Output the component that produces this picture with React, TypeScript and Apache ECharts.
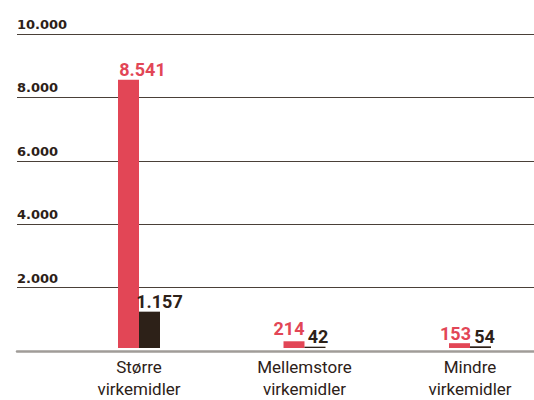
import React, { useEffect, useRef } from "react";
import * as echarts from "echarts";

const categories = ["Større\nvirkemidler", "Mellemstore\nvirkemidler", "Mindre\nvirkemidler"];
const redValues = [8541, 214, 153];
const darkValues = [1157, 42, 54];
const yTicks = [0, 2000, 4000, 6000, 8000, 10000];

const RED = "#e24656";
const DARK = "#2d2118";
const redOffsets = [[14, 0], [-5, -3], [-4, 0]];
const darkOffsets = [[10, 0], [3, 0], [4, 0]];

const fmt = (v: number) => {
  const s = Math.round(v).toString();
  return s.replace(/\B(?=(\d{3})+(?!\d))/g, ".");
};

export default function App() {
  const ref = useRef<HTMLDivElement>(null);
  useEffect(() => {
    if (!ref.current) return;
    const chart = echarts.init(ref.current, undefined, { renderer: "svg" });
    const yMax = yTicks[yTicks.length - 1];
    const labelBase = {
      show: true,
      position: "top" as const,
      distance: 1,
      fontFamily: "Roboto",
      fontWeight: "bold" as const,
      fontSize: 18,
      formatter: (p: any) => fmt(p.value),
    };
    chart.setOption({
      animation: false,
      grid: [
        { left: 17, right: 0, top: 34, bottom: 49 },
        { left: 139, width: 331, top: 34, bottom: 49 },
      ],
      xAxis: [
        {
          gridIndex: 0,
          type: "category",
          data: categories,
          axisLine: { show: true, lineStyle: { color: "#a09c98", width: 2.5 } },
          axisTick: { show: false },
          axisLabel: { show: false },
        },
        {
          gridIndex: 1,
          type: "category",
          data: categories,
          boundaryGap: false,
          axisLine: { show: false },
          axisTick: { show: false },
          axisLabel: {
            margin: 8,
            color: DARK,
            fontFamily: "Roboto",
            fontSize: 17,
            lineHeight: 22,
          },
        },
      ],
      yAxis: [
        {
          gridIndex: 0,
          type: "value",
          min: 0,
          max: yMax,
          interval: 2000,
          axisLine: { show: false },
          axisTick: { show: false },
          splitLine: { lineStyle: { color: "#4a4038", width: 1.2 } },
          axisLabel: {
            inside: true,
            margin: 0,
            verticalAlign: "bottom",
            padding: [0, 0, 3, 0],
            color: DARK,
            fontFamily: "DejaVu Sans",
            fontWeight: "bold",
            fontSize: 13,
            formatter: (v: number) => (v === 0 ? "" : fmt(v)),
          },
        },
        {
          gridIndex: 1,
          type: "value",
          min: 0,
          max: yMax,
          show: false,
          splitLine: { show: false },
        },
      ],
      series: [
        {
          type: "bar",
          xAxisIndex: 1,
          yAxisIndex: 1,
          barWidth: 21,
          barGap: "0%",
          clip: false,
          itemStyle: { color: RED },
          data: redValues.map((v, i) => ({ value: v, label: { offset: redOffsets[i] } })),
          label: { ...labelBase, color: RED },
        },
        {
          type: "bar",
          xAxisIndex: 1,
          yAxisIndex: 1,
          barWidth: 21,
          barGap: "0%",
          clip: false,
          itemStyle: { color: DARK },
          data: darkValues.map((v, i) => ({ value: v, label: { offset: darkOffsets[i] } })),
          label: { ...labelBase, color: DARK },
        },
      ],
    });
    return () => chart.dispose();
  }, []);
  return (
    <div
      ref={ref}
      style={{ position: "fixed", left: 0, top: 0, width: 534, height: 400, background: "#fff" }}
    />
  );
}
